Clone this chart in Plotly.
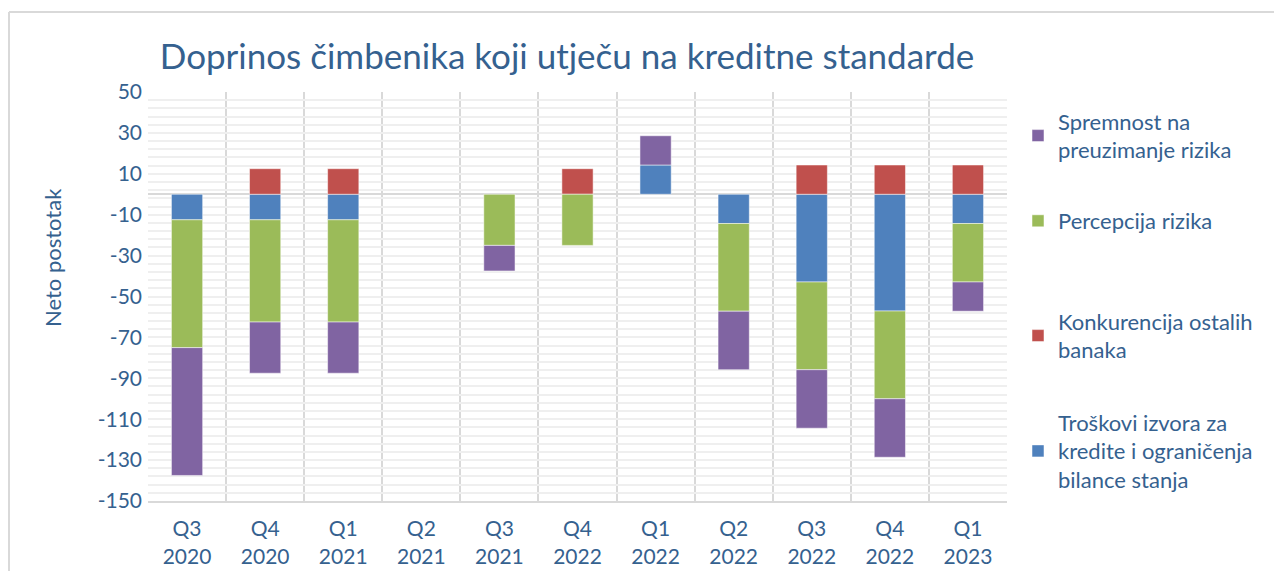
import plotly.graph_objects as go

categories = ["Q3<br>2020", "Q4<br>2020", "Q1<br>2021", "Q2<br>2021", "Q3<br>2021", "Q4<br>2022",
              "Q1<br>2022", "Q2<br>2022", "Q3<br>2022", "Q4<br>2022", "Q1<br>2023"]
troskovi = [-12.5, -12.5, -12.5, None, None, None, 14.3, -14.3, -42.9, -57.1, -14.3]
konkurencija = [None, 12.5, 12.5, None, None, 12.5, None, None, 14.3, 14.3, 14.3]
percepcija = [-62.5, -50, -50, None, -25, -25, None, -42.9, -42.9, -42.9, -28.6]
spremnost = [-62.5, -25, -25, None, -12.5, None, 14.3, -28.6, -28.6, -28.6, -14.3]
ytick_values = [50, 30, 10, -10, -30, -50, -70, -90, -110, -130, -150]
ytick_labels = ["50", "30", "10", "-10", "-30", "-50", "-70", "-90", "-110", "-130", "-150"]

names = ["Troškovi izvora za<br>kredite i ograničenja<br>bilance stanja",
         "Konkurencija ostalih<br>banaka",
         "Percepcija rizika",
         "Spremnost na<br>preuzimanje rizika"]
colors = ["#4F81BD", "#C0504D", "#9BBB59", "#8064A2"]
series = [troskovi, konkurencija, percepcija, spremnost]
legends = ["legend4", "legend3", "legend2", "legend"]

x_pos = list(range(len(categories)))

TXT = "#35618F"
FONT = "Lato"

fig = go.Figure()
for n, c, s, lg in zip(names, colors, series, legends):
    fig.add_trace(go.Bar(x=x_pos, y=s, name=n,
                         marker=dict(color=c, line=dict(color="rgba(255,255,255,0.5)", width=1)),
                         width=0.4, legend=lg, showlegend=True))

# page offset of 8px (body margin) accounted for in figure coordinates
OFF = 8
W, H = 1282 - OFF, 571 - OFF
L, T = 148 - OFF, 92 - OFF
R = W - (1007 - OFF)
B = H - (501 - OFF)
pw = W - L - R
ph = H - T - B

def px_x(x):
    return (x - OFF - L) / pw

def px_y(y):
    return (H - B - (y - OFF)) / ph

leg_common = dict(font=dict(family=FONT, size=22, color=TXT), bgcolor="rgba(0,0,0,0)",
                  xanchor="left", yanchor="middle", x=px_x(1018), itemwidth=30, visible=True)
fig.update_layout(
    width=W, height=H,
    margin=dict(l=L, r=R, t=T, b=B, autoexpand=False),
    barmode="relative",
    showlegend=True,
    paper_bgcolor="white", plot_bgcolor="white",
    font=dict(family=FONT, color=TXT, size=20),
    title=dict(text="Doprinos čimbenika koji utječu na kreditne standarde", xref="container",
               x=(567 - OFF) / W, xanchor="center", yref="container", y=1 - (57 - OFF) / H, yanchor="middle",
               font=dict(family=FONT, size=35, color=TXT)),
    legend=dict(**leg_common, y=px_y(136)),
    legend2=dict(**leg_common, y=px_y(221)),
    legend3=dict(**leg_common, y=px_y(336)),
    legend4=dict(**leg_common, y=px_y(451)),
    xaxis=dict(range=[-0.5, len(categories) - 0.5], tickvals=x_pos, ticktext=categories,
               showgrid=False, zeroline=False, automargin=False,
               minor=dict(tick0=-0.5, dtick=1, showgrid=True, gridcolor="#D9D9D9", gridwidth=2, ticks=""),
               showline=True, linecolor="#D9D9D9", linewidth=2,
               ticks="", tickfont=dict(family=FONT, size=21, color=TXT), ticklabelstandoff=8),
    yaxis=dict(range=[-150, 50], tickvals=ytick_values, ticktext=ytick_labels,
               showgrid=True, gridcolor="#EFEFEF", gridwidth=2,
               minor=dict(tick0=-150, dtick=4, showgrid=True, gridcolor="#EFEFEF", gridwidth=2),
               zeroline=True, zerolinecolor="#D9D9D9", zerolinewidth=2, automargin=False,
               ticks="", tickfont=dict(family=FONT, size=21, color=TXT), ticklabelstandoff=5),
    annotations=[dict(text="Neto postotak", textangle=-90, xref="paper", yref="paper",
                      x=px_x(52), y=px_y(258), xanchor="center", yanchor="middle", showarrow=False,
                      font=dict(family=FONT, size=22, color=TXT))],
    shapes=[
        dict(type="line", xref="paper", yref="paper", x0=px_x(9), x1=px_x(9), y0=px_y(12), y1=px_y(571),
             line=dict(color="#D9D9D9", width=2)),
        dict(type="line", xref="paper", yref="paper", x0=px_x(9), x1=px_x(1282), y0=px_y(12), y1=px_y(12),
             line=dict(color="#D9D9D9", width=2)),
    ],
)

fig.write_html("out.html")
